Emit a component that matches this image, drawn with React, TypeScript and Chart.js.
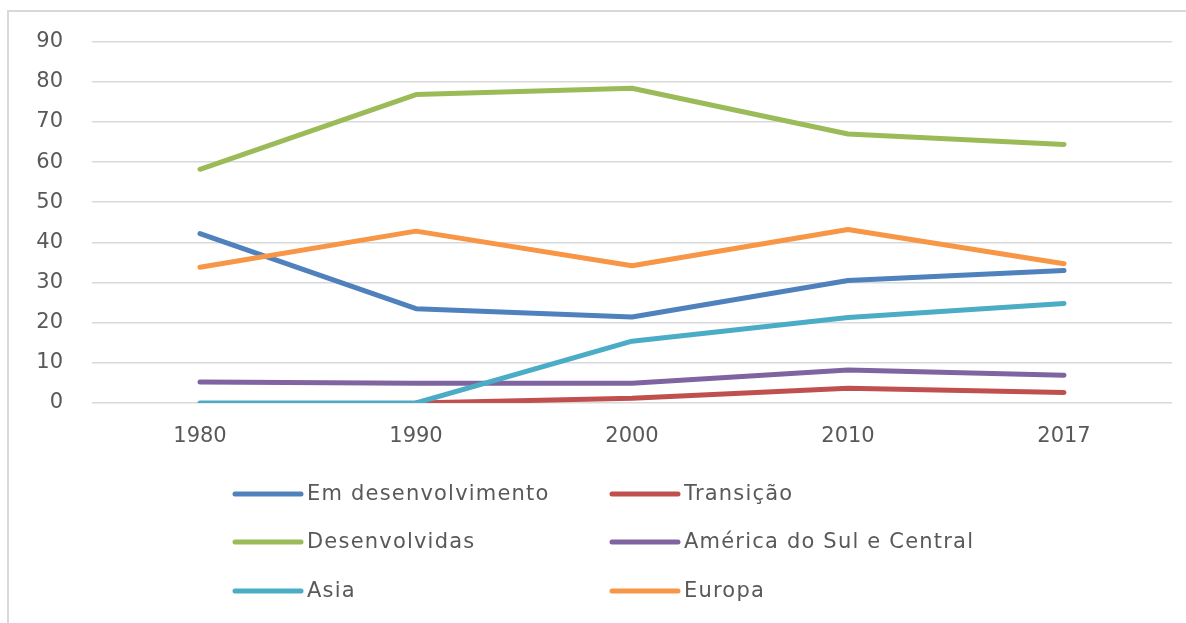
import React, { useEffect, useRef } from "react";
import { Chart, registerables } from "chart.js";

Chart.register(...registerables);

const categories = ["1980", "1990", "2000", "2010", "2017"];
const emDesenvolvimento = [42.2, 23.5, 21.4, 30.5, 33.0];
const transicao = [null, 0, 1.2, 3.7, 2.6];
const desenvolvidas = [58.2, 76.8, 78.4, 67.0, 64.4];
const americaSulCentral = [5.2, 4.9, 4.9, 8.2, 6.9];
const asia = [0, 0, 15.4, 21.3, 24.8];
const europa = [33.8, 42.8, 34.2, 43.2, 34.7];

const seriesNames = [
  "Em desenvolvimento",
  "Transição",
  "Desenvolvidas",
  "América do Sul e Central",
  "Asia",
  "Europa",
];
const seriesColors = ["#4F81BD", "#C0504D", "#9BBB59", "#8064A2", "#4BACC6", "#F79646"];
const seriesValues = [emDesenvolvimento, transicao, desenvolvidas, americaSulCentral, asia, europa];

const yTicks = [0, 10, 20, 30, 40, 50, 60, 70, 80, 90];

const TEXT = "#595959";
const FONT = '"DejaVu Sans"';

const gridLegendPlugin = {
  id: "gridLegend",
  afterDraw(chart: any) {
    const ctx = chart.ctx as CanvasRenderingContext2D;
    const colX = [233, 610];
    const rowY = [494, 542, 591];
    const lineLen = 68;
    ctx.save();
    ctx.font = `21px ${FONT}`;
    (ctx as any).letterSpacing = "1.2px";
    ctx.textBaseline = "middle";
    ctx.textAlign = "left";
    seriesNames.forEach((name, i) => {
      const col = i % 2;
      const row = Math.floor(i / 2);
      const x = colX[col];
      const y = rowY[row];
      ctx.strokeStyle = seriesColors[i];
      ctx.lineWidth = 5;
      ctx.lineCap = "round";
      ctx.beginPath();
      ctx.moveTo(x + 2, y);
      ctx.lineTo(x + lineLen, y);
      ctx.stroke();
      ctx.fillStyle = TEXT;
      ctx.fillText(name, x + lineLen + 6, y + 1);
    });
    ctx.restore();
  },
};

export default function App() {
  const canvasRef = useRef<HTMLCanvasElement | null>(null);

  useEffect(() => {
    if (!canvasRef.current) return;
    const datasets = seriesNames.map((name, i) => ({
      label: name,
      data: seriesValues[i],
      borderColor: seriesColors[i],
      backgroundColor: seriesColors[i],
      borderWidth: 5,
      borderCapStyle: "round" as const,
      borderJoinStyle: "round" as const,
      pointRadius: 0,
      pointHoverRadius: 0,
      tension: 0,
      fill: false,
      spanGaps: false,
      order: seriesNames.length - i,
    }));

    const chart = new Chart(canvasRef.current, {
      type: "line",
      data: { labels: categories, datasets },
      options: {
        animation: false,
        responsive: false,
        maintainAspectRatio: false,
        layout: { padding: { left: 0, top: 40, right: 14, bottom: 180 } },
        plugins: {
          legend: { display: false },
          tooltip: { enabled: false },
          title: { display: false },
        },
        scales: {
          x: {
            offset: true,
            grid: { display: false, drawTicks: false },
            border: { display: false },
            ticks: {
              color: TEXT,
              font: { family: FONT, size: 21 },
              padding: 21,
              maxRotation: 0,
            },
            afterFit(scale: any) {
              scale.height = 40;
            },
          },
          y: {
            min: 0,
            max: 90,
            afterBuildTicks(scale: any) {
              scale.ticks = yTicks.map((v) => ({ value: v }));
            },
            grid: { color: "#D9D9D9", lineWidth: 1.5, drawTicks: false },
            border: { display: false },
            ticks: {
              color: TEXT,
              font: { family: FONT, size: 21 },
              padding: 29,
            },
            afterFit(scale: any) {
              scale.width = 92;
            },
          },
        },
      },
      plugins: [gridLegendPlugin],
    });
    return () => chart.destroy();
  }, []);

  return (
    <div style={{ position: "absolute", left: 0, top: 0, width: 1186, height: 623, background: "#fff", overflow: "hidden" }}>
      <div
        style={{
          position: "absolute",
          left: 7,
          top: 10,
          width: 1300,
          height: 700,
          borderLeft: "2px solid #D9D9D9",
          borderTop: "2px solid #D9D9D9",
        }}
      />
      <canvas
        ref={canvasRef}
        width={1186}
        height={623}
        style={{ position: "absolute", left: 0, top: 0, width: 1186, height: 623, display: "block" }}
      />
    </div>
  );
}
